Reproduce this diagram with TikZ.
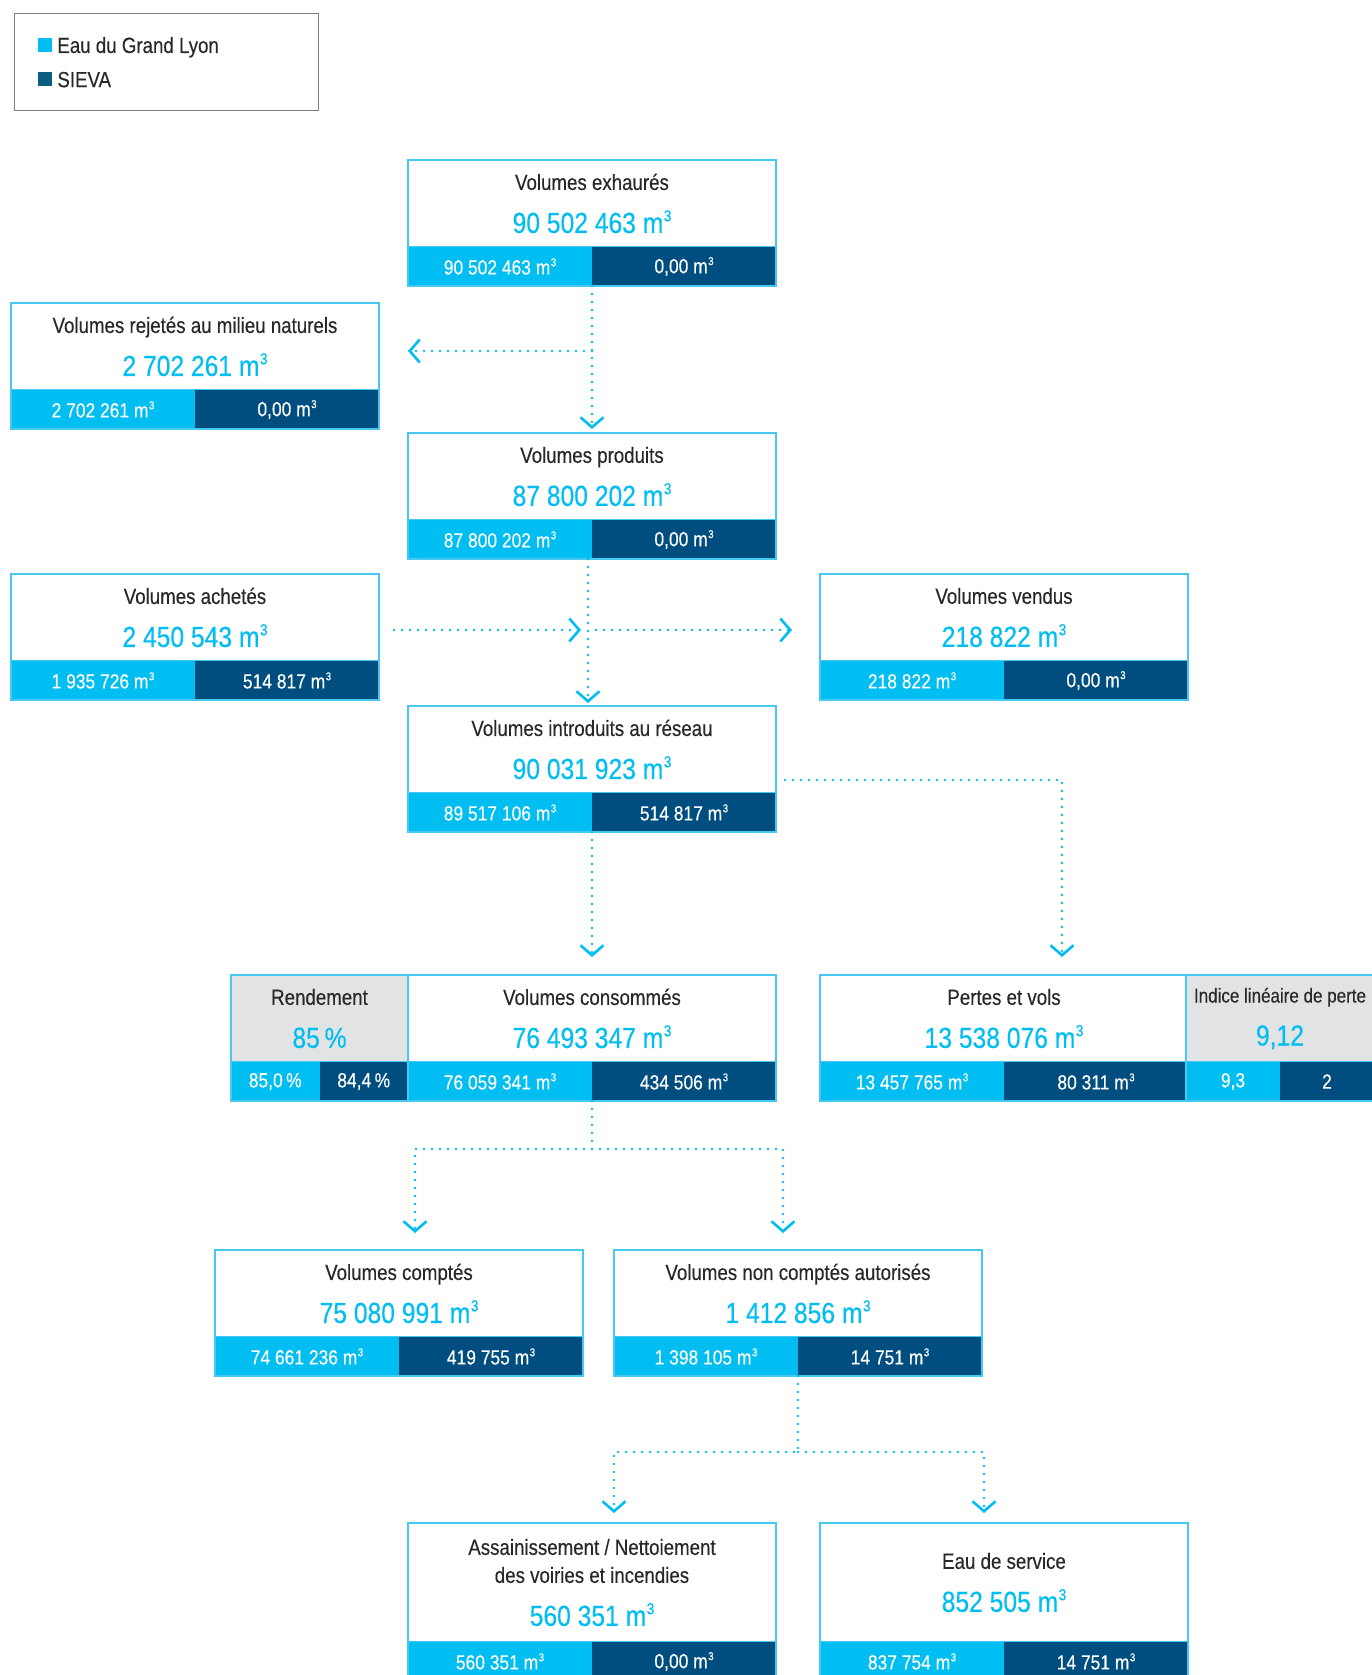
\documentclass[tikz,border=0pt]{standalone}
\usepackage{fontspec}
\setmainfont{Liberation Sans}[FakeStretch=0.85,FakeBold=0.3]
\usepackage{graphicx}
\usepackage{tikz}
\usetikzlibrary{arrows.meta,positioning}

\definecolor{glyon}{RGB}{0,190,242}
\definecolor{sieva}{RGB}{0,78,128}
\definecolor{sievakey}{RGB}{12,94,128}
\definecolor{edgec}{RGB}{70,200,240}
\definecolor{greyh}{RGB}{226,227,229}
\definecolor{legc}{RGB}{128,128,128}
\definecolor{txt}{RGB}{40,40,40}

\newcommand{\mthree}{m\kern0.5pt\raisebox{0.4em}{\scalebox{0.55}{3}}}
\newcommand{\boxtotal}[1]{{\fontsize{29}{28}\selectfont\color{glyon}#1}}

\tikzset{
  head/.style={draw=edgec, line width=1.2pt, fill=white, minimum width=368pt,
    minimum height=87pt, inner sep=0pt, outer sep=0pt, anchor=north west,
    align=center, text=txt, font=\fontsize{22}{28}\selectfont},
  bartext/.style={text=white, inner sep=0pt, font=\fontsize{20.5}{24}\selectfont},
  boxline/.style={draw=edgec, line width=1.2pt},
  flow/.style={draw=glyon, line width=2.9pt, line cap=round, dash pattern=on 0pt off 8pt,
    -{Straight Barb[length=10pt,width=23pt,line width=2.6pt]}},
  key/.style={minimum size=14pt, inner sep=0pt},
  keytext/.style={text=txt, inner sep=0pt, text depth=0pt, font=\fontsize{22}{26}\selectfont},
}

% header, bar in two halves, outline
\newcommand{\volbox}[7][]{%
  \node[head,#1] (#2) at (#3) {#4\\[15pt]\boxtotal{#5}};
  \fill[glyon] (#2.south west) rectangle node[bartext] (#2-l) {#6} ([yshift=-39pt]#2.south);
  \fill[sieva] (#2.south) rectangle node[bartext] (#2-d) {#7} ([yshift=-39pt]#2.south east);
  \draw[boxline] (#2.north west) rectangle ([yshift=-39pt]#2.south east);
  \coordinate (#2-b) at ([yshift=-39pt]#2.south);
}

\begin{document}
\begin{tikzpicture}[x=1pt,y=-1pt]
  \useasboundingbox (0,0) rectangle (1372,1675);
  % Legend
  \node[draw=legc, line width=1pt, minimum width=304pt, minimum height=97pt,
    anchor=north west, inner sep=0pt] (legend) at (14,13) {};
  \node[key, fill=glyon] (k1) at (45,45) {};
  \node[keytext, right=5pt of k1] (t1) {Eau du Grand Lyon};
  \node[key, fill=sievakey] (k2) at (45,79.5) {};
  \node[keytext, right=5pt of k2] (t2) {SIEVA};

  % Define nodes
  \volbox{exh}{408,160}{Volumes exhaurés}{90 502 463 \mthree}{90 502 463 \mthree}{0,00 \mthree}
  \volbox{rej}{11,303}{Volumes rejetés au milieu naturels}{2 702 261 \mthree}{2 702 261 \mthree}{0,00 \mthree}
  \volbox{prod}{408,433}{Volumes produits}{87 800 202 \mthree}{87 800 202 \mthree}{0,00 \mthree}
  \volbox{ach}{11,574}{Volumes achetés}{2 450 543 \mthree}{1 935 726 \mthree}{514 817 \mthree}
  \volbox{ven}{820,574}{Volumes vendus}{218 822 \mthree}{218 822 \mthree}{0,00 \mthree}
  \volbox{intro}{408,706}{Volumes introduits au réseau}{90 031 923 \mthree}{89 517 106 \mthree}{514 817 \mthree}
  \volbox[fill=greyh, minimum width=177pt]{rend}{231,975}{Rendement}{85\,\%}{85,0\,\%}{84,4\,\%}
  \volbox{cons}{408,975}{Volumes consommés}{76 493 347 \mthree}{76 059 341 \mthree}{434 506 \mthree}
  \volbox{pert}{820,975}{Pertes et vols}{13 538 076 \mthree}{13 457 765 \mthree}{80 311 \mthree}
  \volbox[fill=greyh, minimum width=188pt]{ind}{1186,975}{{\fontsize{20}{28}\selectfont Indice linéaire de perte}}{9,12}{9,3}{2}
  \volbox{comp}{215,1250}{Volumes comptés}{75 080 991 \mthree}{74 661 236 \mthree}{419 755 \mthree}
  \volbox{ncomp}{614,1250}{Volumes non comptés autorisés}{1 412 856 \mthree}{1 398 105 \mthree}{14 751 \mthree}
  \volbox[minimum height=119pt]{ass}{408,1523}{Assainissement / Nettoiement\\des voiries et incendies}{560 351 \mthree}{560 351 \mthree}{0,00 \mthree}
  \volbox[minimum height=119pt]{eau}{820,1523}{Eau de service}{852 505 \mthree}{837 754 \mthree}{14 751 \mthree}

  % Junctions
  \coordinate (j1) at (592,351);
  \coordinate (j2) at (588,630);
  \coordinate (j3) at (1062,780);
  \coordinate (j4) at ([yshift=-48pt]cons-b);
  \coordinate (j5) at ([yshift=-76pt]ncomp-b);

  % Connect nodes
  \draw[flow, shorten >=4pt] (exh-b) -- (prod.north);
  \draw[flow, shorten >=29pt] (j1) -- (j1 -| rej.east);
  \draw[flow, shorten >=3pt] ([xshift=-4pt]prod-b) -- ([xshift=-4pt]intro.north);
  \draw[flow, shorten <=15pt, shorten >=7pt] (ach.east |- j2) -- (j2);
  \draw[flow, shorten <=8pt, shorten >=28pt] (j2) -- (j2 -| ven.west);
  \draw[flow, shorten >=18pt] (intro-b) -- (cons.north);
  \draw[flow, shorten >=18pt] ([xshift=9pt]intro.east |- j3) -- (j3) -- (j3 |- pert.north);
  \draw[flow, shorten >=17pt] (cons-b) -- (j4) -| ([xshift=16pt]comp.north);
  \draw[flow, shorten >=17pt] (j4) -| ([xshift=-15pt]ncomp.north);
  \draw[flow, shorten >=10pt] (ncomp-b) -- (j5) -| ([xshift=22pt]ass.north);
  \draw[flow, shorten >=10pt] (j5) -| ([xshift=-20pt]eau.north);
\end{tikzpicture}
\end{document}
